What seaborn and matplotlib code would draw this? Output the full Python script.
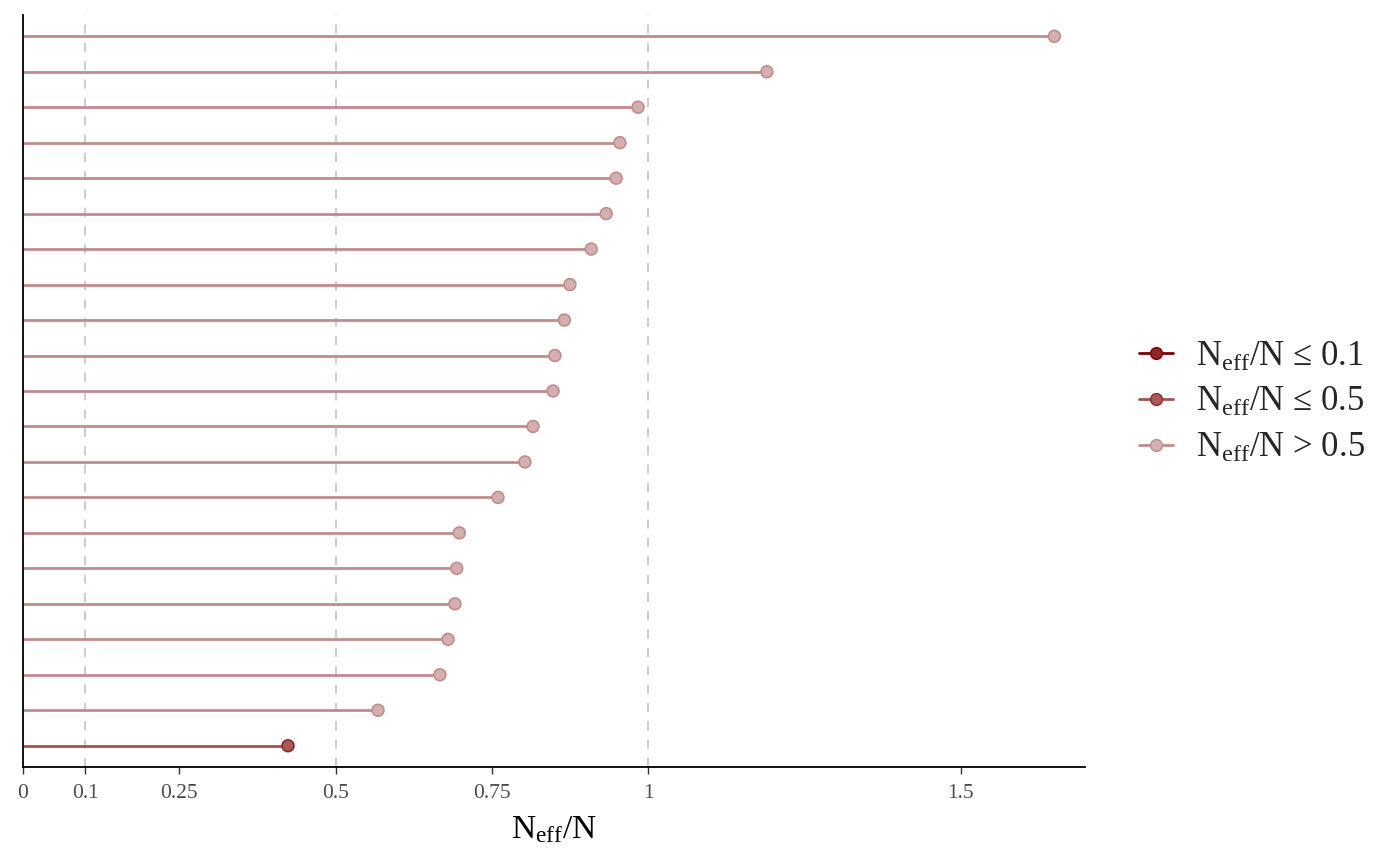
import numpy as np
import pandas as pd
import seaborn as sns
import matplotlib.pyplot as plt
from matplotlib.lines import Line2D

# ratio values, bottom to top
ratios = [0.424, 0.568, 0.667, 0.680, 0.691, 0.694, 0.698, 0.760, 0.803, 0.816,
          0.848, 0.851, 0.866, 0.875, 0.909, 0.933, 0.949, 0.955, 0.984, 1.190, 1.650]
group_labels = ['$\\mathrm{N_{eff}/N}$ ≤ 0.1', '$\\mathrm{N_{eff}/N}$ ≤ 0.5', '$\\mathrm{N_{eff}/N}$ > 0.5']
xticks = [0, 0.1, 0.25, 0.5, 0.75, 1, 1.5]
xtick_labels = ['0', '0.1', '0.25', '0.5', '0.75', '1', '1.5']
refs = [0.1, 0.5, 1]

sns.set_style('white')
plt.rcParams['font.family'] = ['Liberation Serif', 'DejaVu Serif']
plt.rcParams['mathtext.fontset'] = 'custom'
plt.rcParams['mathtext.rm'] = 'Liberation Serif'
plt.rcParams['mathtext.it'] = 'Liberation Serif:italic'

def rating(r):
    if r <= 0.1:
        return group_labels[0]
    if r <= 0.5:
        return group_labels[1]
    return group_labels[2]

df = pd.DataFrame({'ratio': ratios, 'pos': np.arange(1, len(ratios) + 1)})
df['rating'] = df['ratio'].apply(rating)

line_col = {group_labels[0]: '#7C0000', group_labels[1]: '#A25050', group_labels[2]: '#C08C8C'}
fill_col = {group_labels[0]: '#8F2727', group_labels[1]: '#A85A5A', group_labels[2]: '#D4AFAF'}
edge_col = {group_labels[0]: '#7C0000', group_labels[1]: '#8F2727', group_labels[2]: '#C08C8C'}

fig = plt.figure(figsize=(14, 8.66), dpi=100)
ax = fig.add_axes([0.0164, 0.1143, 0.7586, 0.8684])

for r in refs:
    ax.axvline(r, color='#BFBFBF', lw=1.1, ls=(0, (6, 6)), zorder=0)

for _, row in df.iterrows():
    ax.hlines(row['pos'], 0, row['ratio'], color=line_col[row['rating']], lw=2.0, zorder=2)

sns.scatterplot(data=df, x='ratio', y='pos', hue='rating', palette=fill_col,
                hue_order=group_labels, s=72, linewidth=1.2,
                edgecolor=[edge_col[g] for g in df['rating']], legend=False, ax=ax, zorder=3)

ax.set_xlim(0, 1.699)
ax.set_ylim(0.4, len(ratios) + 0.6)
ax.set_yticks([])
ax.set_xticks(xticks)
ax.set_xticklabels(xtick_labels)
ax.tick_params(axis='x', colors='#4D4D4D', labelsize=15.5, length=5, width=1, direction='out', bottom=True, pad=7.5)
ax.tick_params(axis='x', color='#333333')
ax.set_xlabel('$\\mathrm{N_{eff}/N}$', fontsize=24, color='black', labelpad=8)
ax.set_ylabel('')

sns.despine(ax=ax, top=True, right=True)
for side in ['left', 'bottom']:
    ax.spines[side].set_color('black')
    ax.spines[side].set_linewidth(1.3)

handles = [Line2D([0], [0], color=line_col[g], lw=2.0, marker='o', markersize=8.5,
                  markerfacecolor=fill_col[g], markeredgecolor=edge_col[g]) for g in group_labels]
fig.legend(handles, group_labels, loc='center left', bbox_to_anchor=(0.791, 0.535),
           frameon=False, fontsize=25, handlelength=1.0, handletextpad=0.66, labelspacing=0.36)

fig.savefig('out.png', dpi=100)
